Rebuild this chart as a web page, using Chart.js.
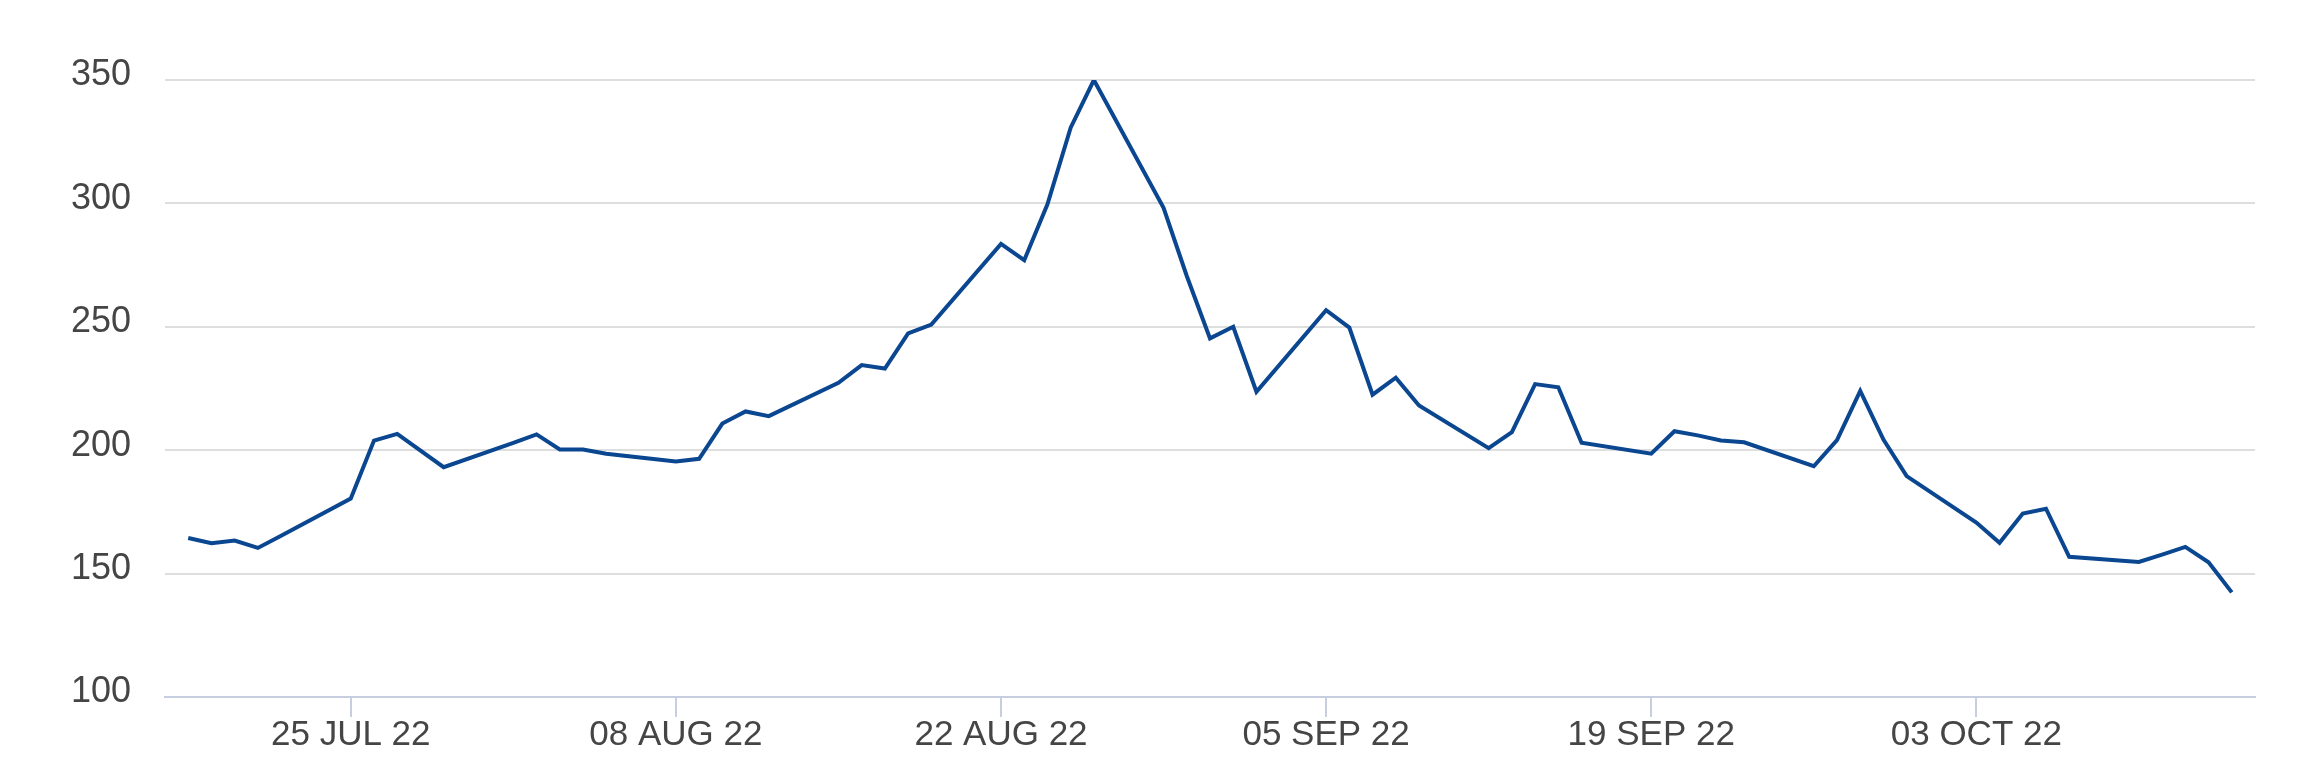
<!DOCTYPE html>
<html>
<head>
<meta charset="utf-8">
<script src="https://cdn.jsdelivr.net/npm/chart.js"></script>
<style>
  html, body { margin: 0; padding: 0; background: #ffffff; }
  #wrap { width: 2300px; height: 780px; }
</style>
</head>
<body>
<div id="wrap"><canvas id="priceChart" width="2300" height="780"></canvas></div>
<script>
// business days
var dates = [
    "2022-07-18", "2022-07-19", "2022-07-20", "2022-07-21", "2022-07-22",
    "2022-07-25", "2022-07-26", "2022-07-27", "2022-07-29",
    "2022-08-01", "2022-08-02", "2022-08-03", "2022-08-04", "2022-08-05",
    "2022-08-08", "2022-08-09", "2022-08-10", "2022-08-11", "2022-08-12",
    "2022-08-15", "2022-08-16", "2022-08-17", "2022-08-18", "2022-08-19",
    "2022-08-22", "2022-08-23", "2022-08-24", "2022-08-25", "2022-08-26",
    "2022-08-29", "2022-08-30", "2022-08-31", "2022-09-01", "2022-09-02",
    "2022-09-05", "2022-09-06", "2022-09-07", "2022-09-08", "2022-09-09",
    "2022-09-12", "2022-09-13", "2022-09-14", "2022-09-15", "2022-09-16",
    "2022-09-19", "2022-09-20", "2022-09-21", "2022-09-22", "2022-09-23",
    "2022-09-26", "2022-09-27", "2022-09-28", "2022-09-29", "2022-09-30",
    "2022-10-03", "2022-10-04", "2022-10-05", "2022-10-06", "2022-10-07",
    "2022-10-10", "2022-10-11", "2022-10-12", "2022-10-13", "2022-10-14"
];
var prices = [
    164.4, 162.3, 163.4, 160.4, 165.3,
    180.4, 203.9, 206.6, 193.1,
    203.0, 206.4, 200.3, 200.3, 198.6,
    195.4, 196.5, 210.8, 215.7, 213.8,
    227.3, 234.5, 233.1, 247.3, 250.9,
    283.6, 277.0, 299.6, 330.7, 350.0,
    298.2, 270.6, 245.3, 250.0, 223.7,
    256.7, 249.7, 222.5, 229.4, 218.1,
    200.8, 207.3, 226.8, 225.5, 203.0,
    198.6, 207.7, 206.0, 203.9, 203.2,
    193.5, 204.1, 224.0, 204.3, 189.5,
    170.7, 162.5, 174.3, 176.3, 156.8,
    154.7, 157.7, 160.8, 154.6, 142.4
];
var tickDates = ["2022-07-25", "2022-08-08", "2022-08-22", "2022-09-05", "2022-09-19", "2022-10-03"];
var tickLabels = ["25 JUL 22", "08 AUG 22", "22 AUG 22", "05 SEP 22", "19 SEP 22", "03 OCT 22"];
var yTicks = [100, 150, 200, 250, 300, 350];

// day number since epoch, so the x axis is a plain linear scale
function dayNum(s) {
    var p = s.split("-");
    return Date.UTC(+p[0], +p[1] - 1, +p[2]) / 86400000;
}

var points = [];
for (var i = 0; i < dates.length; i++)
    points.push({ x: dayNum(dates[i]), y: prices[i] });

var tickDays = tickDates.map(dayNum);
var family = "'Liberation Sans', Arial, sans-serif";

chart = new Chart("priceChart", {
    type: "line",
    data: {
        datasets: [{
            data: points,
            borderColor: "#0a4790",
            borderWidth: 4,
            pointRadius: 0,
            tension: 0,
            fill: false
        }]
    },
    options: {
        responsive: false,
        animation: false,
        devicePixelRatio: 1,
        layout: { padding: { top: 80, right: 45, bottom: 0, left: 0 } },
        plugins: {
            legend: { display: false },
            tooltip: { enabled: false }
        },
        scales: {
            x: {
                type: "linear",
                min: dayNum("2022-07-17"),
                max: dayNum("2022-10-15"),
                afterBuildTicks: function (axis) {
                    axis.ticks = tickDays.map(function (v) { return { value: v }; });
                },
                afterFit: function (axis) { axis.height = 83; },
                ticks: {
                    autoSkip: false,
                    maxRotation: 0,
                    padding: -3,
                    color: "#454545",
                    font: { family: family, size: 35 },
                    callback: function (v) {
                        var k = tickDays.indexOf(v);
                        return k >= 0 ? tickLabels[k] : "";
                    }
                },
                grid: {
                    drawOnChartArea: false,
                    drawTicks: true,
                    tickLength: 20,
                    color: "#c7cee0",
                    lineWidth: 2
                },
                border: { display: true, color: "#c7cee0", width: 2 }
            },
            y: {
                min: 100,
                max: 350,
                afterBuildTicks: function (axis) {
                    axis.ticks = yTicks.map(function (v) { return { value: v }; });
                },
                afterFit: function (axis) { axis.width = 165; },
                ticks: {
                    padding: 34,
                    color: "#454545",
                    // small line height + empty second line lifts the label a few px above its grid line
                    font: { family: family, size: 36, lineHeight: "9px" },
                    callback: function (v) { return [String(v), ""]; }
                },
                grid: {
                    drawTicks: false,
                    color: function (ctx) { return ctx.tick && ctx.tick.value === 100 ? "rgba(0,0,0,0)" : "#dedede"; },
                    lineWidth: 2
                },
                border: { display: false }
            }
        }
    }
});
</script>
</body>
</html>
